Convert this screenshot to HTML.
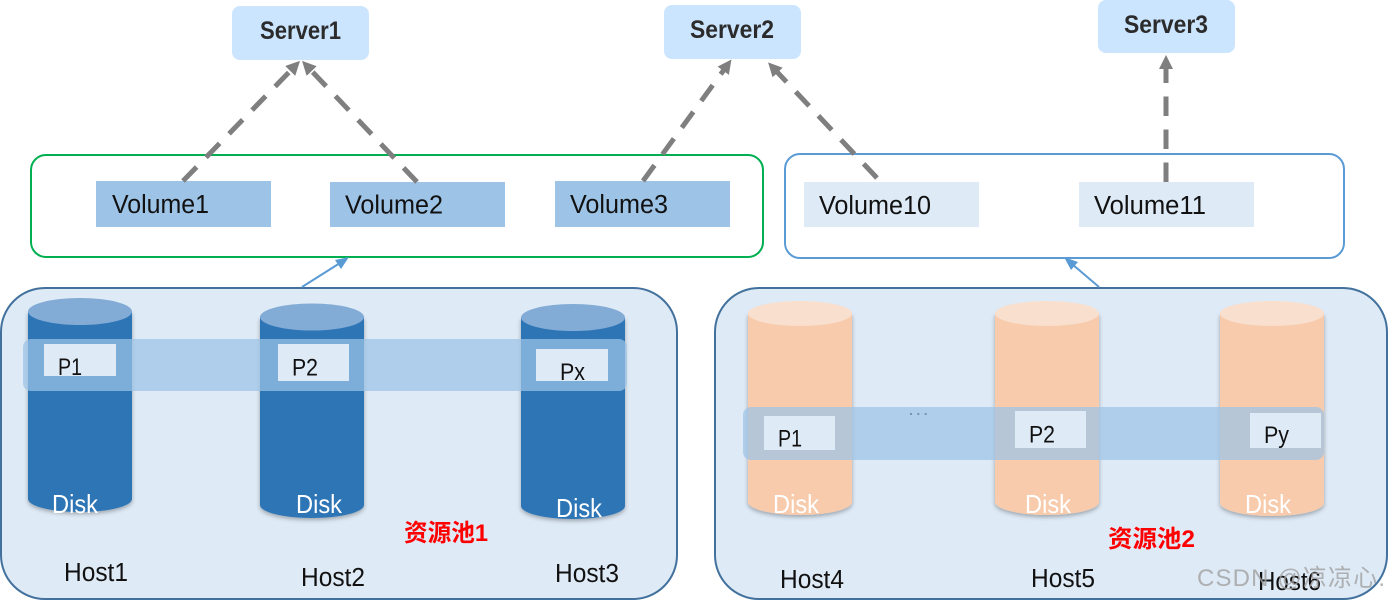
<!DOCTYPE html>
<html>
<head>
<meta charset="utf-8">
<style>
html,body{margin:0;padding:0;background:#fff;width:1389px;height:601px;overflow:hidden}
svg{display:block}
text{font-family:"Liberation Sans","Noto Sans CJK SC",sans-serif;font-size:25.5px;fill:#111}
.srv{font-size:25px;font-weight:bold;fill:#2b2b2b}
.p{font-size:24.5px}
.disk{fill:#fff;font-size:26px}
.red{fill:#f00;font-size:24px;font-weight:bold}
.dash{stroke:#7f7f7f;stroke-width:5;stroke-dasharray:19.500 13.500;fill:none}
</style>
</head>
<body>
<svg width="1389" height="601" viewBox="0 0 1389 601" xmlns="http://www.w3.org/2000/svg">
<defs>
<filter id="sh" x="-20%" y="-10%" width="140%" height="120%"><feDropShadow dx="0" dy="2" stdDeviation="2" flood-color="#000" flood-opacity="0.3"/></filter>
<marker id="ah" markerUnits="userSpaceOnUse" markerWidth="16" markerHeight="16" refX="9" refY="8" orient="auto">
<polygon points="0,1 14,8 0,15" fill="#7f7f7f"/>
</marker>
</defs>

<!-- panels -->
<rect x="1" y="288" width="676" height="311" rx="44" fill="#deeaf6" stroke="#41719c" stroke-width="2"/>
<rect x="715" y="288" width="672" height="311" rx="44" fill="#deeaf6" stroke="#41719c" stroke-width="2"/>

<!-- volume containers -->
<rect x="31" y="155" width="732" height="102" rx="15" fill="#fff" stroke="#00b050" stroke-width="2"/>
<rect x="785" y="154" width="559" height="104" rx="15" fill="#fff" stroke="#5b9bd5" stroke-width="2"/>

<!-- volumes -->
<rect x="96" y="181" width="175" height="46" fill="#9dc3e6"/>
<rect x="330" y="182" width="175" height="45" fill="#9dc3e6"/>
<rect x="555" y="181" width="175" height="46" fill="#9dc3e6"/>
<rect x="804" y="182" width="175" height="45" fill="#deeaf6"/>
<rect x="1079" y="182" width="175" height="45" fill="#deeaf6"/>
<text x="112" y="213" textLength="97" lengthAdjust="spacingAndGlyphs">Volume1</text>
<text x="345" y="213.500" textLength="98" lengthAdjust="spacingAndGlyphs">Volume2</text>
<text x="570" y="213" textLength="98" lengthAdjust="spacingAndGlyphs">Volume3</text>
<text x="819" y="214" textLength="112" lengthAdjust="spacingAndGlyphs">Volume10</text>
<text x="1094" y="214" textLength="112" lengthAdjust="spacingAndGlyphs">Volume11</text>

<!-- servers -->
<rect x="232" y="6" width="137" height="54" rx="8" fill="#cce5ff"/>
<rect x="664" y="5" width="137" height="54" rx="8" fill="#cce5ff"/>
<rect x="1098" y="0" width="137" height="53" rx="8" fill="#cce5ff"/>
<text class="srv" x="260" y="39" textLength="81" lengthAdjust="spacingAndGlyphs">Server1</text>
<text class="srv" x="690" y="38" textLength="84" lengthAdjust="spacingAndGlyphs">Server2</text>
<text class="srv" x="1124" y="33" textLength="84" lengthAdjust="spacingAndGlyphs">Server3</text>

<!-- dashed arrows -->
<line class="dash" x1="183" y1="181" x2="296.500" y2="64.500" marker-end="url(#ah)"/>
<line class="dash" x1="417" y1="182" x2="305.500" y2="64.500" marker-end="url(#ah)"/>
<line class="dash" x1="643" y1="181" x2="728.500" y2="63.500" marker-end="url(#ah)"/>
<line class="dash" x1="877" y1="178" x2="771.500" y2="66" marker-end="url(#ah)"/>
<line class="dash" x1="1166" y1="182" x2="1166" y2="60" marker-end="url(#ah)"/>

<!-- thin arrows -->
<line x1="302" y1="287" x2="340" y2="263" stroke="#5b9bd5" stroke-width="2"/>
<polygon points="349,257 341,269 335,260" fill="#5b9bd5"/>
<line x1="1099" y1="287" x2="1072" y2="264" stroke="#5b9bd5" stroke-width="2"/>
<polygon points="1064,257 1078,262 1071,270" fill="#5b9bd5"/>

<!-- blue disks -->
<g filter="url(#sh)">
<path d="M28 311.500V499C28 506 51 512 80 512S132 506 132 499V311.500Z" fill="#2e75b6"/>
<path d="M260 317V505C260 512 283 518 312 518S364 512 364 505V317Z" fill="#2e75b6"/>
<path d="M521 317.500V506C521 513 544 519 573 519S625 513 625 506V317.500Z" fill="#2e75b6"/>
</g>
<ellipse cx="80" cy="311.500" rx="52" ry="13.500" fill="#82abd5"/>
<ellipse cx="312" cy="317" rx="52" ry="13.500" fill="#82abd5"/>
<ellipse cx="573" cy="317.500" rx="52" ry="13.500" fill="#82abd5"/>

<!-- orange disks -->
<g filter="url(#sh)">
<path d="M748 313.500V502C748 509 771 515 800 515S852 509 852 502V313.500Z" fill="#f7cbac"/>
<path d="M995 313.500V502C995 509 1018 515 1047 515S1099 509 1099 502V313.500Z" fill="#f7cbac"/>
<path d="M1220 313.500V503C1220 510 1243 516 1272 516S1324 510 1324 503V313.500Z" fill="#f7cbac"/>
</g>
<ellipse cx="800" cy="313.500" rx="52" ry="12.500" fill="#f9dfcd"/>
<ellipse cx="1047" cy="313.500" rx="52" ry="12.500" fill="#f9dfcd"/>
<ellipse cx="1272" cy="313.500" rx="52" ry="12.500" fill="#f9dfcd"/>

<!-- bands -->
<rect x="23" y="339" width="604" height="52" rx="8" fill="#9dc3e6" fill-opacity="0.72"/>
<rect x="743" y="407" width="581" height="53" rx="8" fill="#9dc3e6" fill-opacity="0.72"/>

<!-- partitions -->
<rect x="44" y="344" width="72" height="32" fill="#deeaf6"/>
<rect x="278" y="344" width="71" height="37" fill="#deeaf6"/>
<rect x="536" y="349" width="72" height="32" fill="#deeaf6"/>
<rect x="764" y="416" width="71" height="34" fill="#deeaf6"/>
<rect x="1015" y="411" width="71" height="37" fill="#deeaf6"/>
<rect x="1250" y="413" width="71" height="35" fill="#deeaf6"/>
<text class="p" x="58" y="375" textLength="24" lengthAdjust="spacingAndGlyphs">P1</text>
<text class="p" x="292" y="375.500" textLength="26" lengthAdjust="spacingAndGlyphs">P2</text>
<text class="p" x="560" y="380" textLength="25" lengthAdjust="spacingAndGlyphs">Px</text>
<text class="p" x="778" y="446.500" textLength="24" lengthAdjust="spacingAndGlyphs">P1</text>
<text class="p" x="1029" y="442.500" textLength="26" lengthAdjust="spacingAndGlyphs">P2</text>
<text class="p" x="1264" y="443" textLength="25" lengthAdjust="spacingAndGlyphs">Py</text>

<text x="909" y="415" style="font-size:14px;font-weight:bold;fill:#7694b8;letter-spacing:3.500px">...</text>

<!-- disk labels -->
<text class="disk" x="52" y="513" textLength="46" lengthAdjust="spacingAndGlyphs">Disk</text>
<text class="disk" x="296" y="513" textLength="46" lengthAdjust="spacingAndGlyphs">Disk</text>
<text class="disk" x="556" y="517" textLength="46" lengthAdjust="spacingAndGlyphs">Disk</text>
<text class="disk" x="773" y="513" textLength="46" lengthAdjust="spacingAndGlyphs">Disk</text>
<text class="disk" x="1025" y="513" textLength="46" lengthAdjust="spacingAndGlyphs">Disk</text>
<text class="disk" x="1245" y="513" textLength="46" lengthAdjust="spacingAndGlyphs">Disk</text>

<!-- red labels -->
<text class="red" x="404" y="541" textLength="84" lengthAdjust="spacingAndGlyphs">资源池1</text>
<text class="red" x="1108" y="547" textLength="87" lengthAdjust="spacingAndGlyphs">资源池2</text>

<!-- hosts -->
<text x="64" y="581" textLength="64" lengthAdjust="spacingAndGlyphs">Host1</text>
<text x="301" y="586" textLength="64" lengthAdjust="spacingAndGlyphs">Host2</text>
<text x="555" y="582" textLength="64" lengthAdjust="spacingAndGlyphs">Host3</text>
<text x="780" y="588" textLength="64" lengthAdjust="spacingAndGlyphs">Host4</text>
<text x="1031" y="587" textLength="64" lengthAdjust="spacingAndGlyphs">Host5</text>
<text x="1258" y="590" textLength="63" lengthAdjust="spacingAndGlyphs">Host6</text>

<!-- watermark -->
<text x="1197" y="586" textLength="188" lengthAdjust="spacing" style="font-size:24px;fill:#a0a0a0;fill-opacity:.8">CSDN @凉凉心.</text>
</svg>
</body>
</html>
